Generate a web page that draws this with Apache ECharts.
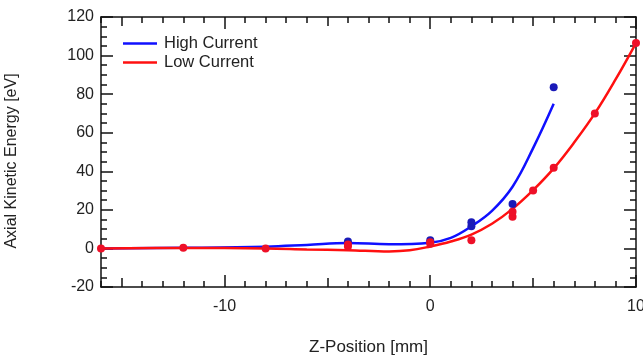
<!DOCTYPE html>
<html>
<head>
<meta charset="utf-8">
<script src="https://cdn.jsdelivr.net/npm/echarts@6/dist/echarts.min.js"></script>
<style>
html,body{margin:0;padding:0;background:#fff;}
#chart{width:643px;height:358px;}
</style>
</head>
<body>
<div id="chart"></div>
<script>
// Tick labels
var xLabelValues = [-10, 0, 10];
var xMidTicks = [-15, -5, 5];
var xMinorTicks = [-16,-14,-13,-12,-11,-9,-8,-7,-6,-4,-3,-2,-1,1,2,3,4,6,7,8,9];

// Fitted curves [z, energy]
var highCurve = [[-16,0],[-12,0.3],[-8,0.9],[-6,1.8],[-4,2.8],[-2,2.2],[0,3.0],[1,5.5],[2,11.5],[3,19.5],[4,32],[5,52],[6,75]];
var lowCurve = [[-16,0],[-12,0.2],[-8,0],[-6,-0.5],[-4,-0.9],[-2,-1.6],[-1,-1.0],[0,1.0],[1,3.6],[2,7.2],[3,12.8],[4,20.5],[5,30.2],[6,41.5],[7,55],[8,70],[9,87.5],[10,106.5]];

// Measured points [z, energy]
var highPoints = [[-4,3.6],[0,4.2],[2,11.5],[2,13.6],[4,23],[6,83.6]];
var lowPoints = [[-16,0],[-12,0.3],[-8,0],[-4,1.0],[-4,2.0],[0,2.4],[0,3.2],[2,4.3],[4,16.4],[4,19.0],[5,30.0],[6,41.8],[8,70],[10,106.5]];

var FONT = 'Liberation Sans, Arial, sans-serif';
var BLUE = '#1010ff', BLUE_PT = '#1a1ab8', RED = '#ff1010', RED_PT = '#ee1028';

function xAx(pos, ticks, len, withLabels, withLine, extra) {
  var a = {
    type: 'value', position: pos, min: -16, max: 10,
    axisLine: {show: withLine, onZero: false, lineStyle: {color: '#111', width: 1.5}},
    axisTick: {show: true, inside: true, length: len, customValues: ticks, lineStyle: {color: '#111', width: 1.5}},
    axisLabel: withLabels ? {show: true, customValues: xLabelValues, fontFamily: FONT, fontSize: 16, color: '#222', margin: 12} : {show: false},
    splitLine: {show: false}
  };
  if (extra) for (var k in extra) a[k] = extra[k];
  return a;
}
function yAx(pos, withLabels, extra) {
  var a = {
    type: 'value', position: pos, min: -20, max: 120, interval: 20,
    axisLine: {show: true, onZero: false, lineStyle: {color: '#111', width: 1.5}},
    axisTick: {show: true, inside: true, length: 12, lineStyle: {color: '#111', width: 1.5}},
    minorTick: {show: true, splitNumber: 4, length: 6, lineStyle: {color: '#111', width: 1.5}},
    axisLabel: withLabels ? {show: true, fontFamily: FONT, fontSize: 16, color: '#222', margin: 7} : {show: false},
    splitLine: {show: false}, minorSplitLine: {show: false}
  };
  if (extra) for (var k in extra) a[k] = extra[k];
  return a;
}

var chart = echarts.init(document.getElementById('chart'), null, {renderer: 'canvas'});
chart.setOption({
  animation: false,
  backgroundColor: '#fff',
  grid: {left: 101, right: 7, top: 17, bottom: 71, containLabel: false, outerBoundsMode: 'none'},
  legend: {
    orient: 'vertical', left: 118, top: 29, itemWidth: 34, itemHeight: 2.5, itemGap: 0,
    icon: 'rect',
    data: ['High Current', 'Low Current'],
    textStyle: {fontFamily: FONT, fontSize: 16.5, color: '#222', padding: [0,0,0,2], lineHeight: 19}
  },
  xAxis: [
    xAx('bottom', xLabelValues, 12, true, true, {name: 'Z-Position [mm]', nameLocation: 'middle', nameGap: 52, nameTextStyle: {fontFamily: FONT, fontSize: 17, color: '#222'}}),
    xAx('bottom', xMidTicks, 9, false, false),
    xAx('bottom', xMinorTicks, 6, false, false),
    xAx('top', xLabelValues, 12, false, true),
    xAx('top', xMidTicks, 9, false, false),
    xAx('top', xMinorTicks, 6, false, false)
  ],
  yAxis: [
    yAx('left', true, {name: 'Axial Kinetic Energy [eV]', nameLocation: 'middle', nameGap: 81, nameTextStyle: {fontFamily: FONT, fontSize: 16, color: '#222', padding: [0,0,0,-18]}}),
    yAx('right', false)
  ],
  series: [
    {name: 'High Current', type: 'line', data: highCurve, smooth: 0.4, symbol: 'none', showSymbol: false,
     lineStyle: {color: BLUE, width: 2.5}, itemStyle: {color: BLUE}, xAxisIndex: 0, yAxisIndex: 0, z: 2},
    {name: 'Low Current', type: 'line', data: lowCurve, smooth: 0.4, symbol: 'none', showSymbol: false,
     lineStyle: {color: RED, width: 2.5}, itemStyle: {color: RED}, xAxisIndex: 0, yAxisIndex: 0, z: 3},
    {name: 'High pts', type: 'scatter', data: highPoints, symbolSize: 8, itemStyle: {color: BLUE_PT, opacity: 1}, xAxisIndex: 0, yAxisIndex: 0, z: 4},
    {name: 'Low pts', type: 'scatter', data: lowPoints, symbolSize: 8, itemStyle: {color: RED_PT, opacity: 1}, xAxisIndex: 0, yAxisIndex: 0, z: 5}
  ]
});
</script>
</body>
</html>
